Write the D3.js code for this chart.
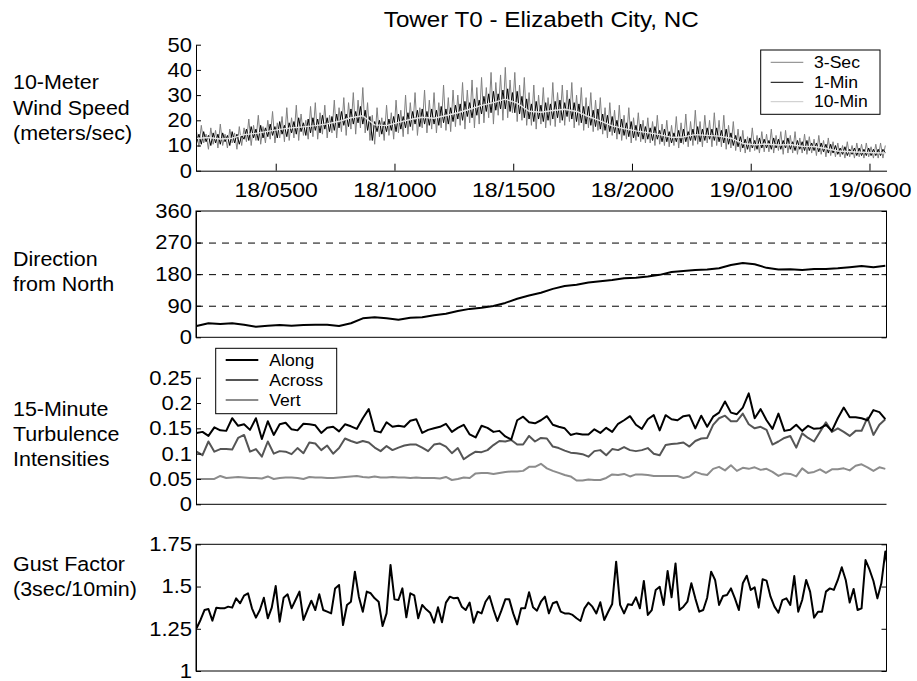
<!DOCTYPE html>
<html lang="en">
<head>
<meta charset="UTF-8">
<title>Tower T0 - Elizabeth City, NC</title>
<style>
  body { margin: 0; background: #fff; }
  svg { display: block; }
</style>
</head>
<body>
<script src="https://d3js.org/d3.v7.min.js"></script>
<script>
// ---- data ----
const startTime = new Date(2003, 8, 18, 1, 40);
const tickLabels = ['18/0500', '18/1000', '18/1500', '18/2000', '19/0100', '19/0600'];
const windNames = ['3-Sec', '1-Min', '10-Min'];
const turbNames = ['Along', 'Across', 'Vert'];

// 3-second wind speed, peaks/troughs every 6 minutes (m/s)
const wind3s = [
  15.5,9.5,18,11,14.5,8.5,17,10.5,16,9, 18.5,10,14.5,9,16.5,11,15,8.5,17.5,10,
  17,11.5,20.5,10,18,12,22,10.5,17.5,11, 20,12.5,23.5,11,19,13,21.5,11.5,25,12,
  21,13,26,12,22.5,14,20,12.5,25.5,13.5, 27,12.5,23,14.5,26,13,22,15,28,13,
  25,15.5,29,14,27,16.5,31,14.5,28,17, 33,15,27,12,22,10.5,25,13.5,21,12,
  26,14,23,12.5,28,15,24,13.5,30,14.5, 27,16,31,14,25,17,32,15,28,16.5,
  31,15,27,17,34,16,29,15.5,32,17.5, 30,18,35,16.5,32,19,36,17,33,18.5,
  37,19,33,21,39,18.5,35,22,38,20, 41,21,36,23,39,19.5,34,20,37,18,
  31,18,34,16.5,30,18.5,33,17,29,18, 35,17.5,31,19,34,18,32,19.5,35,17,
  30,18,33,16,29,17,31,15.5,28,16, 29,14.5,25,13,27,14,24,12.5,26,12,
  22,12.5,25,11,21,12,23,11.5,20,11, 21,11,19.5,10,22,10.5,18.5,10,20,9.5,
  18,10,21.5,9,19,10.5,22.5,9.5,19.5,10, 24,10.5,19.5,9.5,22,11,20,9.5,23,10,
  20,9.5,22,8.5,18,9,19.5,8,16.5,7.5, 16,7,13.5,7.5,17,8,14,7,15.5,7.5,
  14.5,7.5,16.5,7,14,8,15.5,6.5,16,7, 14,7,15.5,6.5,13,7,14.5,6.5,13.5,7,
  12.5,6,14,6.5,12,5.5,13,6,11.5,5.5, 11,5.5,10,5,11.5,5.5,10,5,11,5.5,
  10.5,5,11,5.5,9.5,5,10.5,5,11,5, 10
];
// 1-minute wind speed, every 6 minutes (m/s)
const wind1m = [
  11,14.5,10.5,15.5,11.5,14,10,15,11,14.5, 10.5,15,11.5,14,10,15.5,11,14.5,10.5,14,
  12.5,16.5,12,17.5,13,16.5,12,18,13,17, 13.5,18.5,14,17.5,13,19.5,14.5,18,13.5,19,
  15,19.5,14.5,21,15.5,19,14,20.5,15,21, 16,20.5,15,22,16.5,21,15.5,21.5,16,22.5,
  17,23.5,18,22.5,17.5,24.5,18.5,23.5,19,25.5, 18.5,24,16,21.5,12,19.5,15.5,20,14.5,19.5,
  15.5,20.5,16,21.5,15.5,22.5,16.5,21.5,17,23, 17.5,23.5,18.5,24,17.5,24.5,18.5,23.5,18,24.5,
  18.5,24,18,25.5,19,24.5,18.5,25,19.5,26, 20.5,26.5,20,27.5,21.5,27,21,28.5,22,28,
  22.5,29.5,23.5,30.5,23,31.5,24,30.5,24.5,32, 24.5,32.5,23.5,31,23,31.5,22.5,29.5,21,28.5,
  20.5,26.5,19.5,27.5,20.5,26,19.5,27,20,26.5, 20.5,27.5,21,28,20,27,21.5,28.5,20.5,27,
  19.5,26.5,19,25.5,18.5,25.5,18,24,17.5,24.5, 16.5,22.5,16,22,15.5,21.5,15,20,14.5,20.5,
  14,19,13.5,19.5,13,18,13.5,18.5,12.5,17.5, 12.5,17,12,17.5,12.5,16,11.5,16.5,11.5,15.5,
  11,15,11.5,16,11,16.5,11.5,15.5,12,16.5, 12,17.5,11.5,16.5,12,17,12.5,16.5,12,17,
  11.5,16,11,16.5,10.5,15,10,14,9.5,13.5, 9,12.5,8.5,13,9,12,8.5,13,9,12.5,
  9,12,8.5,13,9,12.5,8.5,12,9,13, 8.5,11.5,8,12,8.5,11.5,8,12,8,11,
  8,11,7.5,11,7.5,10.5,7,10.5,7,10, 6.5,9,6.5,9.5,6,8.5,6.5,9,6,9,
  6,8.5,6,9,6,8.5,6,8.5,6,8.5, 7
];
// 10-minute mean wind speed, every 30 minutes (m/s)
const wind10m = [
  12.8,13.2,12.6,12.9,14.3,14.8,15.6,16.4,17.0,17.4,
  17.9,18.6,19.6,21.0,21.8,18.2,17.9,19.2,20.3,21.2,
  20.8,21.9,23.0,24.4,25.9,27.0,28.4,26.8,23.6,23.2,
  23.9,24.4,23.5,21.5,19.8,17.8,16.7,15.8,15.1,14.3,
  13.2,13.4,14.3,14.0,13.7,12.9,10.8,10.3,10.6,10.2,
  10.4,9.7,9.6,8.8,7.8,7.5,7.3,7.1,7.0
];
// wind direction from north, every 30 minutes (deg)
const direction = [
  32,40,38,40,36,30,33,35,33,35, 36,36,32,40,54,57,54,50,56,57,
  63,67,75,81,84,89,98,110,119,127, 138,146,150,156,160,163,168,170,173,178,
  186,189,192,193,197,206,212,208,198,193, 194,192,195,195,197,200,203,200,204
];
// 15-minute turbulence intensities
const along = [
  .141,.143,.135,.152,.146,.145,.170,.155,.158,.147, .170,.129,.164,.137,.158,.161,.148,.146,.159,.158,
  .156,.141,.151,.153,.144,.158,.154,.149,.170,.188, .145,.142,.162,.153,.155,.153,.165,.168,.141,.147,
  .150,.153,.159,.143,.151,.157,.138,.132,.155,.151, .143,.145,.134,.128,.166,.173,.162,.160,.166,.174,
  .157,.153,.150,.137,.140,.138,.138,.148,.141,.151, .143,.159,.166,.174,.157,.149,.168,.176,.146,.176,
  .168,.166,.174,.176,.150,.175,.153,.173,.181,.203, .181,.178,.191,.219,.170,.188,.166,.149,.179,.145,
  .147,.157,.145,.155,.149,.150,.157,.145,.170,.191, .172,.172,.170,.166,.186,.182,.168
];
const across = [
  .104,.097,.124,.104,.109,.109,.108,.131,.137,.104, .109,.094,.124,.100,.105,.104,.099,.111,.101,.122,
  .120,.107,.116,.100,.111,.130,.125,.121,.125,.122, .112,.105,.115,.107,.112,.116,.118,.118,.112,.105,
  .118,.120,.114,.101,.111,.089,.097,.104,.103,.107, .117,.125,.124,.127,.118,.118,.135,.124,.131,.130,
  .114,.111,.106,.102,.101,.099,.094,.105,.107,.097, .109,.107,.113,.107,.105,.107,.111,.100,.097,.117,
  .119,.120,.122,.114,.125,.130,.131,.157,.170,.175, .164,.164,.179,.158,.150,.153,.147,.118,.124,.131,
  .135,.112,.140,.131,.124,.143,.162,.143,.150,.143, .135,.145,.145,.171,.137,.157,.168
];
const vert = [
  .050,.050,.050,.050,.056,.052,.053,.054,.053,.052, .052,.051,.055,.050,.052,.053,.053,.052,.050,.054,
  .053,.053,.052,.052,.053,.054,.055,.056,.054,.053, .055,.053,.053,.054,.053,.053,.052,.053,.052,.052,
  .052,.051,.054,.048,.050,.053,.052,.061,.062,.062, .060,.062,.064,.065,.065,.066,.074,.074,.080,.071,
  .066,.062,.058,.055,.047,.047,.049,.048,.048,.052, .059,.058,.060,.055,.059,.059,.058,.056,.056,.056,
  .056,.056,.052,.055,.064,.060,.058,.070,.074,.067, .077,.066,.072,.070,.073,.068,.070,.064,.056,.061,
  .060,.055,.071,.062,.064,.069,.062,.069,.069,.071, .067,.076,.079,.073,.066,.073,.070
];
// gust factor (3 sec / 10 min), every 10 minutes
const gust = [
  1.253,1.302,1.361,1.367,1.298,1.375,1.371,1.371,1.381,1.375, 1.430,1.401,1.446,1.460,1.371,1.316,1.361,1.434,1.312,1.375,
  1.503,1.292,1.434,1.454,1.371,1.420,1.470,1.302,1.361,1.416, 1.361,1.454,1.361,1.351,1.341,1.489,1.509,1.272,1.391,1.410,
  1.588,1.440,1.351,1.470,1.460,1.430,1.410,1.266,1.341,1.628, 1.424,1.420,1.489,1.318,1.460,1.448,1.312,1.391,1.365,1.345,
  1.286,1.377,1.288,1.405,1.440,1.430,1.434,1.381,1.361,1.405, 1.286,1.351,1.341,1.410,1.444,1.365,1.296,1.357,1.424,1.424,
  1.341,1.276,1.371,1.371,1.466,1.377,1.357,1.410,1.440,
  1.341,1.401,1.410,1.351,1.341,1.341,1.332,1.312,1.296,1.371, 1.405,1.381,1.341,1.407,1.302,1.351,1.397,1.647,1.391,1.341,
  1.395,1.391,1.436,1.371,1.533,1.332,1.361,1.480,1.499,1.391, 1.592,1.436,1.637,1.361,1.381,1.410,1.519,1.430,1.351,1.361,
  1.434,1.588,1.539,1.391,1.444,1.450,1.489,1.430,1.361,1.519, 1.564,1.480,1.495,1.375,1.543,1.535,1.440,1.381,1.345,1.420,
  1.430,1.391,1.562,1.351,1.420,1.539,1.470,1.316,1.351,1.351, 1.470,1.489,1.480,1.539,1.614,1.539,1.405,1.486,1.361,1.371,
  1.657,1.601,1.533,1.430,1.519,1.707,1.549
];
const speedTicks = [0, 10, 20, 30, 40, 50];
const dirTicks = [0, 90, 180, 270, 360];
const dirGrid = [90, 180, 270];
const turbTicks = [0, 0.05, 0.1, 0.15, 0.2, 0.25];
const gustTicks = [1, 1.25, 1.5, 1.75];

// ---- layout ----
const FONT = '"Liberation Sans", Arial, Helvetica, sans-serif';
const SX = 1.1; // the original lettering is a little wide
const left = 196, right = 886.5;
const panels = [
  { top: 44.7, bottom: 170.7 },
  { top: 211, bottom: 337.3 },
  { top: 377.7, bottom: 504.3 },
  { top: 544.3, bottom: 671 }
];

const svg = d3.select('body').append('svg')
  .attr('width', 917)
  .attr('height', 681)
  .attr('font-family', FONT);

svg.append('defs').append('clipPath').attr('id', 'plotclip')
  .append('rect').attr('x', left).attr('y', 0).attr('width', right - left).attr('height', 681);

const x = d3.scaleTime()
  .domain([new Date(2003, 8, 18, 1, 38, 36), new Date(2003, 8, 19, 6, 43)])
  .range([left, right]);

const parseTick = d3.timeParse('%Y-%m-%d/%H%M');
const tickTimes = tickLabels.map(s => parseTick('2003-09-' + s));

const y1 = d3.scaleLinear().domain([0, 50]).range([panels[0].bottom, panels[0].top]);
const y2 = d3.scaleLinear().domain([0, 360]).range([panels[1].bottom, panels[1].top]);
const y3 = d3.scaleLinear().domain([0, 0.25]).range([panels[2].bottom, panels[2].top]);
const y4 = d3.scaleLinear().domain([1, 1.75]).range([panels[3].bottom, panels[3].top]);

function toPoints(values, stepMinutes) {
  return values.map((v, i) => ({ t: d3.timeMinute.offset(startTime, i * stepMinutes), v }));
}

function label(x0, y0, str, size, anchor) {
  svg.append('text')
    .attr('transform', `translate(${x0},${y0}) scale(${SX},1)`)
    .attr('font-size', size)
    .attr('text-anchor', anchor || 'start')
    .attr('fill', '#000')
    .text(str);
}

function yAxis(y, ticks, fmt) {
  const g = svg.append('g')
    .attr('transform', `translate(${left},0)`)
    .call(d3.axisLeft(y).tickValues(ticks).tickFormat(fmt)
      .tickSizeInner(-5).tickSizeOuter(0).tickPadding(4));
  g.attr('font-family', FONT);
  g.select('.domain').attr('stroke', '#000');
  g.selectAll('.tick line').attr('stroke', '#000');
  g.selectAll('text')
    .attr('font-size', 20)
    .attr('fill', '#000')
    .attr('x', -4 / SX)
    .attr('transform', `scale(${SX},1)`);
  return g;
}

function rightTicks(y, ticks) {
  const g = svg.append('g')
    .attr('transform', `translate(${right},0)`)
    .call(d3.axisRight(y).tickValues(ticks).tickFormat('').tickSizeInner(-5).tickSizeOuter(0));
  g.select('.domain').remove();
  g.selectAll('.tick line').attr('stroke', '#000');
}

function bottomLine(p) {
  svg.append('line')
    .attr('x1', left).attr('x2', right)
    .attr('y1', p.bottom).attr('y2', p.bottom)
    .attr('stroke', '#000');
}

function frame(p) {
  svg.append('rect')
    .attr('x', left).attr('y', p.top)
    .attr('width', right - left).attr('height', p.bottom - p.top)
    .attr('fill', 'none').attr('stroke', '#000');
}

function drawLine(points, y, color, width) {
  svg.append('path')
    .datum(points)
    .attr('clip-path', 'url(#plotclip)')
    .attr('fill', 'none')
    .attr('stroke', color)
    .attr('stroke-width', width)
    .attr('stroke-linejoin', 'round')
    .attr('d', d3.line().x(d => x(d.t)).y(d => y(d.v)));
}

function legend(box, names, colors, widths, rows, lineX, textX, size) {
  svg.append('rect')
    .attr('x', box.x).attr('y', box.y).attr('width', box.w).attr('height', box.h)
    .attr('fill', '#fff').attr('stroke', '#000');
  names.forEach((n, i) => {
    svg.append('line')
      .attr('x1', lineX[0]).attr('x2', lineX[1])
      .attr('y1', rows[i]).attr('y2', rows[i])
      .attr('stroke', colors[i]).attr('stroke-width', widths[i]);
    label(textX, rows[i] + size * 0.36, n, size, 'start');
  });
}

// ---- title ----
label((left + right) / 2, 27, 'Tower T0 - Elizabeth City, NC', 22, 'middle');

// ---- panel 1: wind speed ----
drawLine(toPoints(wind3s, 6), y1, '#808080', 1);
drawLine(toPoints(wind1m, 6), y1, '#000', 1);
drawLine(toPoints(wind10m, 30), y1, '#e4e4e4', 1.4);
yAxis(y1, speedTicks, d3.format('d'));
const xg = svg.append('g')
  .attr('transform', `translate(0,${panels[0].bottom})`)
  .call(d3.axisBottom(x).tickValues(tickTimes).tickFormat((d, i) => tickLabels[i])
    .tickSizeInner(-7).tickSizeOuter(0).tickPadding(11.5));
xg.attr('font-family', FONT);
xg.select('.domain').attr('stroke', '#000');
xg.selectAll('.tick line').attr('stroke', '#000');
xg.selectAll('text').attr('font-size', 21).attr('fill', '#000').attr('transform', `scale(${SX},1)`);
legend({ x: 760.7, y: 50, w: 119.3, h: 64.3 }, windNames, ['#808080', '#000', '#c8c8c8'], [1, 1, 1],
  [62.3, 82.3, 101.7], [770.7, 803.3], 814, 16);

// ---- panel 2: direction ----
const grid = svg.append('g')
  .attr('transform', `translate(${left},0)`)
  .call(d3.axisLeft(y2).tickValues(dirGrid).tickFormat('').tickSize(-(right - left)));
grid.select('.domain').remove();
grid.selectAll('.tick line').attr('stroke', '#000').attr('stroke-dasharray', '7,6');
drawLine(toPoints(direction, 30), y2, '#000', 2);
frame(panels[1]);
yAxis(y2, dirTicks, d3.format('d'));
rightTicks(y2, dirTicks);

// ---- panel 3: turbulence intensities ----
drawLine(toPoints(vert, 15), y3, '#8c8c8c', 2);
drawLine(toPoints(across, 15), y3, '#555', 2);
drawLine(toPoints(along, 15), y3, '#000', 2);
bottomLine(panels[2]);
yAxis(y3, turbTicks, d => d === 0 ? '0' : String(d));
legend({ x: 215.7, y: 348.3, w: 121, h: 65.4 }, turbNames, ['#000', '#555', '#8c8c8c'], [2, 2, 2],
  [360, 380, 400], [225.7, 258.3], 269.3, 16);

// ---- panel 4: gust factor ----
drawLine(toPoints(gust, 10), y4, '#000', 2);
frame(panels[3]);
yAxis(y4, gustTicks, d => String(d));
rightTicks(y4, gustTicks);

// ---- row titles ----
const rowTitles = [
  { lines: ['10-Meter', 'Wind Speed', '(meters/sec)'], base: [89.3, 115, 139.5] },
  { lines: ['Direction', 'from North'], base: [266, 291] },
  { lines: ['15-Minute', 'Turbulence', 'Intensities'], base: [416, 441, 466] },
  { lines: ['Gust Factor', '(3sec/10min)'], base: [571, 596] }
];
rowTitles.forEach(r => r.lines.forEach((s, i) => label(13, r.base[i], s, 19.5, 'start')));
</script>
</body>
</html>
